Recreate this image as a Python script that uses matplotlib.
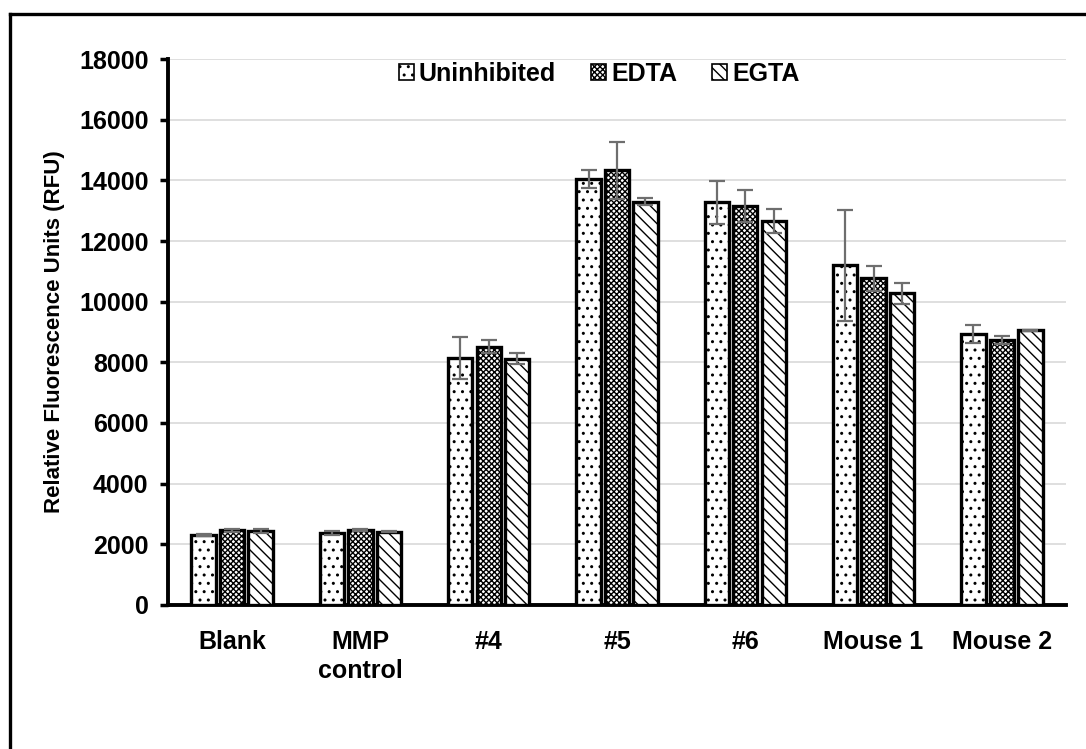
import matplotlib.pyplot as plt
import numpy as np
from matplotlib.lines import Line2D

plt.rcParams['font.family'] = ['Liberation Sans', 'DejaVu Sans']
plt.rcParams['font.weight'] = 'bold'
plt.rcParams['hatch.linewidth'] = 1.0

categories = ['Blank', 'MMP\ncontrol', '#4', '#5', '#6', 'Mouse 1', 'Mouse 2']
series = ['Uninhibited', 'EDTA', 'EGTA']

uninhibited = [2300, 2380, 8150, 14050, 13270, 11200, 8930]
edta = [2460, 2480, 8520, 14330, 13150, 10770, 8730]
egta = [2450, 2420, 8120, 13300, 12660, 10270, 9060]

uninhibited_err = [40, 70, 700, 300, 700, 1830, 300]
edta_err = [40, 30, 200, 940, 530, 420, 130]
egta_err = [70, 20, 180, 110, 400, 350, 20]

hatches = ['..', 'xxxxxx', '\\\\\\']

fig = plt.figure(figsize=(10.86, 7.49), dpi=100)
ax = fig.add_axes([0.1547, 0.1923, 0.8269, 0.7289])

x = np.arange(len(categories))
pitch = 0.222
width = 0.19
values = [uninhibited, edta, egta]
errors = [uninhibited_err, edta_err, egta_err]

for i, (name, vals, errs, h) in enumerate(zip(series, values, errors, hatches)):
    ax.bar(x + (i - 1) * pitch, vals, width, color='white', edgecolor='black',
           linewidth=2.4, hatch=h, label=name, zorder=3)
    ax.errorbar(x + (i - 1) * pitch, vals, yerr=errs, fmt='none',
                ecolor='#6e6e6e', elinewidth=1.6, capsize=5.5, capthick=1.6,
                zorder=4)

ax.set_xlim(-0.5, len(categories) - 0.5)
ax.set_ylim(0, 18000)
ax.set_yticks(range(0, 18001, 2000))
ax.set_xticks(x)
ax.set_xticklabels(categories, fontsize=18, fontweight='bold',
                   linespacing=1.25)
ax.tick_params(axis='x', length=0, pad=18)
ax.tick_params(axis='y', length=6, width=2.5, labelsize=18, pad=8)
for lab in ax.get_yticklabels():
    lab.set_fontweight('bold')

ax.grid(axis='y', color='#d9d9d9', linewidth=1.2, zorder=0)
ax.set_axisbelow(True)
for side in ['top', 'right']:
    ax.spines[side].set_visible(False)
ax.spines['left'].set_linewidth(2.8)
ax.spines['bottom'].set_linewidth(2.8)

ax.set_ylabel('Relative Fluorescence Units (RFU)', fontsize=16,
              fontweight='bold', labelpad=10)

leg = ax.legend(loc='upper center', bbox_to_anchor=(0.48, 1.017), ncol=3,
                frameon=False, fontsize=18, handlelength=0.6,
                handleheight=0.6, handletextpad=0.2, columnspacing=1.4,
                borderaxespad=0.1)
for t in leg.get_texts():
    t.set_fontweight('bold')
for p in leg.get_patches():
    p.set_linewidth(1.2)

# outer frame (left and top edges)
fig.add_artist(Line2D([9.5 / 1086, 9.5 / 1086], [0, 1 - 13.5 / 749],
                      color='black', linewidth=2.4, transform=fig.transFigure))
fig.add_artist(Line2D([9.5 / 1086, 1], [1 - 13.5 / 749, 1 - 13.5 / 749],
                      color='black', linewidth=2.4, transform=fig.transFigure))

fig.savefig('out.png', dpi=100)
